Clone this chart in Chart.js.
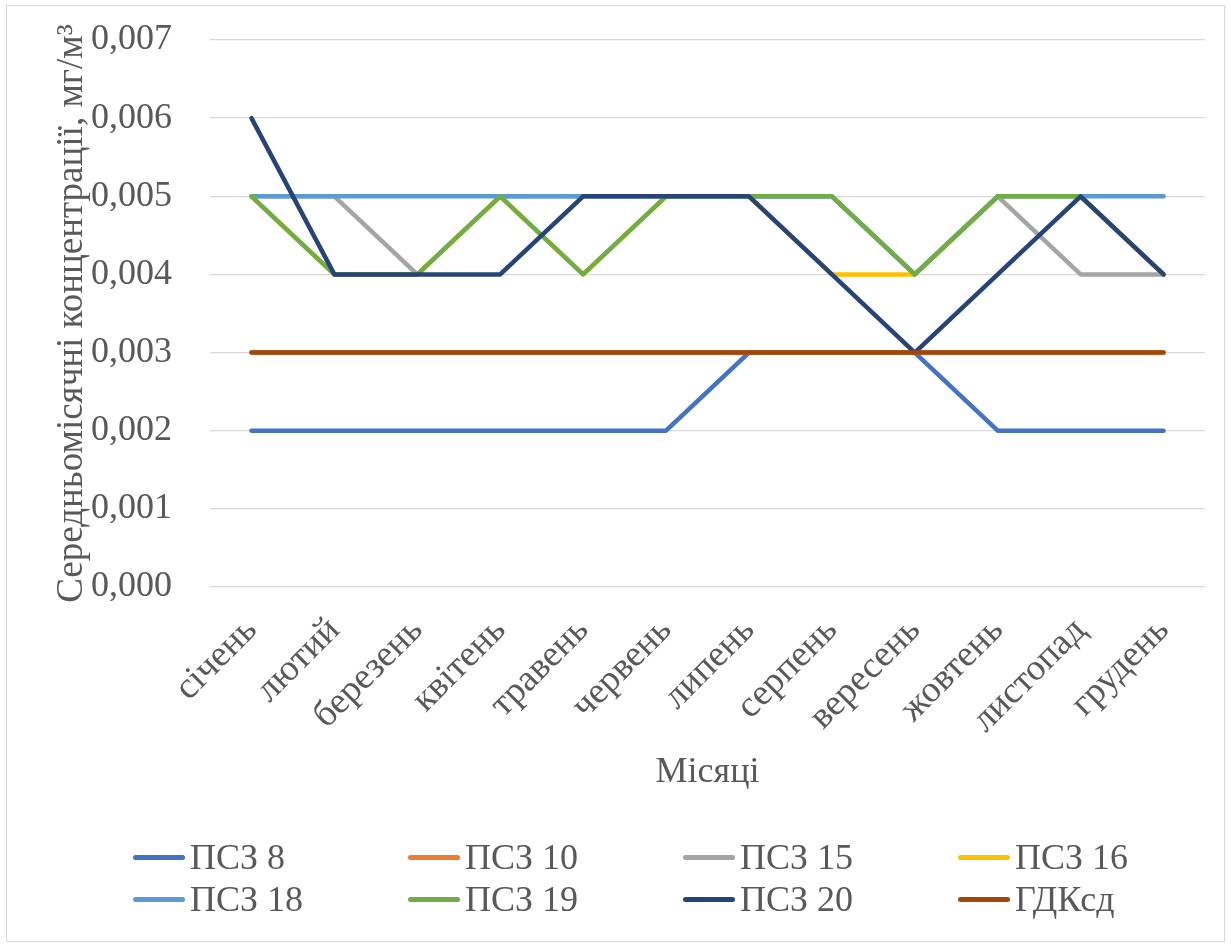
<!DOCTYPE html>
<html>
<head>
<meta charset="utf-8" />
<title>Середньомісячні концентрації</title>
<style>
  body { margin: 0; background: #fff; }
  #wrap { position: relative; width: 1231px; height: 948px; }
  #frame { position: absolute; left: 6px; top: 5px; width: 1219px; height: 937px; border: 1px solid #d9d9d9; box-sizing: border-box; pointer-events: none; }
  #legend { position: absolute; left: 133px; top: 836px; width: 1100px; font-family: "Liberation Serif", serif; font-size: 36px; color: #595959; }
  .item { position: absolute; display: flex; align-items: center; white-space: nowrap; }
  .swatch { width: 52px; height: 5px; border-radius: 3px; margin-right: 5px; }
</style>
</head>
<body>
<div id="wrap">
  <canvas id="chart" width="1231" height="948"></canvas>
  <div id="frame"></div>
  <div id="legend"></div>
</div>
<script src="https://cdn.jsdelivr.net/npm/chart.js@4.4.1/dist/chart.umd.min.js"></script>
<script>
// місяці
const months = ['січень', 'лютий', 'березень', 'квітень', 'травень', 'червень',
                'липень', 'серпень', 'вересень', 'жовтень', 'листопад', 'грудень'];

// значення по постах, мг/м3
const psz8  = [0.002, 0.002, 0.002, 0.002, 0.002, 0.002, 0.003, 0.003, 0.003, 0.002, 0.002, 0.002];
const psz10 = [0.003, 0.003, 0.003, 0.003, 0.003, 0.003, 0.003, 0.003, 0.003, 0.003, 0.003, 0.003];
const psz15 = [0.005, 0.005, 0.004, 0.005, 0.005, 0.005, 0.005, 0.005, 0.004, 0.005, 0.004, 0.004];
const psz16 = [0.005, 0.004, 0.004, 0.005, 0.004, 0.005, 0.005, 0.004, 0.004, 0.005, 0.005, 0.004];
const psz18 = [0.005, 0.005, 0.005, 0.005, 0.005, 0.005, 0.005, 0.005, 0.004, 0.005, 0.005, 0.005];
const psz19 = [0.005, 0.004, 0.004, 0.005, 0.004, 0.005, 0.005, 0.005, 0.004, 0.005, 0.005, 0.004];
const psz20 = [0.006, 0.004, 0.004, 0.004, 0.005, 0.005, 0.005, 0.004, 0.003, 0.004, 0.005, 0.004];
const gdk   = [0.003, 0.003, 0.003, 0.003, 0.003, 0.003, 0.003, 0.003, 0.003, 0.003, 0.003, 0.003];

const yTicksMax = 0.007;
const yStep = 0.001;

const textColor = '#595959';
const font = 'Liberation Serif';

// останній ряд малюється зверху, як у Excel
function line(label, data, color, order) {
  return {
    label: label,
    data: data,
    order: order,
    borderColor: color,
    backgroundColor: color,
    borderWidth: 4.5,
    borderCapStyle: 'round',
    borderJoinStyle: 'round',
    pointRadius: 0,
    tension: 0,
    fill: false
  };
}

const datasets = [
  line('ПСЗ 8', psz8, '#4472C4', 8),
  line('ПСЗ 10', psz10, '#ED7D31', 7),
  line('ПСЗ 15', psz15, '#A5A5A5', 6),
  line('ПСЗ 16', psz16, '#FFC000', 5),
  line('ПСЗ 18', psz18, '#5B9BD5', 4),
  line('ПСЗ 19', psz19, '#70AD47', 3),
  line('ПСЗ 20', psz20, '#264478', 2),
  line('ГДКсд', gdk, '#9E480E', 1)
];

const ctx = document.getElementById('chart');
const chart = new Chart(ctx, {
  type: 'line',
  data: { labels: months, datasets: datasets },
  options: {
    responsive: false,
    animation: false,
    layout: { padding: { left: 46, right: 26, top: 40, bottom: 154 } },
    plugins: {
      legend: { display: false },
      tooltip: { enabled: false }
    },
    scales: {
      x: {
        offset: true,
        grid: { display: false, drawTicks: false },
        border: { display: false },
        ticks: {
          color: textColor,
          font: { family: font, size: 37 },
          maxRotation: 45,
          minRotation: 45,
          padding: 22
        },
        title: {
          display: true,
          text: 'Місяці',
          color: textColor,
          font: { family: font, size: 36 },
          padding: 0
        },
        afterFit: function(s) { s.height = 207; }
      },
      y: {
        min: 0,
        max: yTicksMax,
        grid: { color: '#d9d9d9', lineWidth: 1.3, drawTicks: true, tickLength: 34, tickColor: 'rgba(0,0,0,0)' },
        border: { display: false },
        ticks: {
          stepSize: yStep,
          color: textColor,
          font: { family: font, size: 36 },
          padding: 4,
          callback: function(v) { return v.toFixed(3).replace('.', ','); }
        },
        title: {
          display: true,
          text: 'Середньомісячні концентрації, мг/м³',
          color: textColor,
          font: { family: font, size: 37 },
          padding: 4
        },
        afterFit: function(s) { s.width = 164; }
      }
    }
  }
});

// легенда: 4 колонки, 2 рядки
const legend = document.getElementById('legend');
datasets.forEach(function(ds, i) {
  const el = document.createElement('div');
  el.className = 'item';
  el.style.left = (i % 4) * 275 + 'px';
  el.style.top = Math.floor(i / 4) * 42 + 'px';
  const sw = document.createElement('span');
  sw.className = 'swatch';
  sw.style.background = ds.borderColor;
  const tx = document.createElement('span');
  tx.textContent = ds.label;
  el.appendChild(sw);
  el.appendChild(tx);
  legend.appendChild(el);
});
</script>
</body>
</html>
